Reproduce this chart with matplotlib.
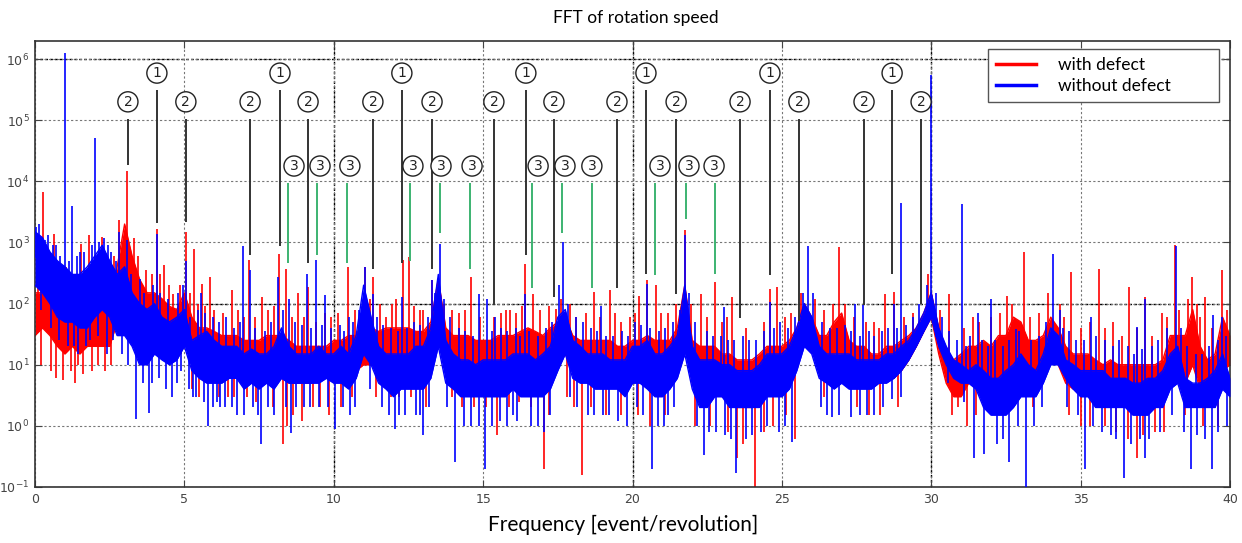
import numpy as np
import matplotlib
matplotlib.use("Agg")
import matplotlib.pyplot as plt
from matplotlib.lines import Line2D

# frequency grid of the band envelopes (event/revolution), step 0.25
freq_step = 0.25
freq = np.arange(0, 40 + freq_step / 2, freq_step)

# blue = without defect : upper / lower edge of the noise band
blue_hi = [1500, 1200, 700, 500, 400, 300, 300, 400, 600, 900, 500, 300, 400, 150, 100, 80,
           100, 60, 50, 60, 80, 25, 30, 35, 25, 20, 20, 20, 15, 18, 15, 15,
           20, 40, 20, 15, 15, 15, 20, 15, 15, 20, 15, 30, 200, 60, 20, 15,
           15, 15, 15, 20, 20, 40, 300, 25, 15, 12, 12, 10, 12, 12, 12, 12,
           15, 15, 15, 12, 15, 20, 60, 80, 25, 20, 15, 15, 15, 12, 12, 12,
           20, 20, 25, 15, 15, 20, 30, 200, 20, 12, 12, 12, 10, 10, 8, 8,
           8, 10, 15, 15, 15, 20, 40, 100, 60, 20, 15, 15, 15, 15, 12, 12,
           12, 12, 15, 15, 20, 25, 40, 70, 150, 40, 20, 12, 10, 8, 10, 8,
           6, 6, 8, 10, 15, 10, 8, 15, 40, 30, 12, 10, 8, 8, 8, 8,
           6, 6, 6, 5, 5, 6, 6, 8, 15, 20, 6, 5, 5, 6, 8, 15, 6]
blue_lo = [200, 150, 100, 60, 50, 50, 40, 40, 60, 80, 60, 30, 30, 20, 10, 10,
           15, 12, 10, 12, 20, 8, 6, 5, 5, 5, 6, 6, 4, 5, 4, 5,
           4, 6, 5, 5, 5, 5, 5, 6, 5, 5, 4, 6, 15, 10, 5, 4,
           3, 4, 4, 4, 4, 6, 20, 5, 4, 3, 3, 3, 3, 3, 3, 3,
           4, 3, 3, 3, 3, 4, 8, 15, 6, 5, 5, 4, 4, 4, 4, 3,
           5, 5, 4, 3, 3, 4, 6, 15, 4, 2, 2, 3, 3, 2, 2, 2,
           2, 2, 3, 3, 3, 4, 8, 20, 15, 6, 5, 4, 5, 4, 4, 4,
           4, 5, 5, 6, 8, 12, 20, 35, 60, 20, 10, 6, 5, 5, 4, 2,
           1.5, 1.5, 1.5, 2, 3, 3, 3, 5, 10, 10, 6, 4, 3, 3, 2, 2,
           2, 2, 2, 1.5, 1.5, 1.5, 2, 2, 4, 5, 2, 2, 2, 2, 2, 4, 3]

# red = with defect
red_hi = [150, 150, 200, 120, 150, 100, 100, 120, 150, 120, 100, 400, 2000, 600, 250, 150,
          150, 120, 90, 80, 150, 60, 40, 40, 35, 30, 30, 30, 25, 25, 25, 30,
          30, 30, 25, 20, 20, 20, 20, 20, 25, 25, 30, 30, 60, 40, 35, 40,
          40, 40, 40, 35, 35, 50, 250, 40, 30, 30, 30, 25, 25, 25, 30, 30,
          30, 35, 40, 35, 30, 40, 50, 60, 30, 25, 25, 25, 25, 25, 20, 20,
          25, 25, 30, 25, 25, 25, 40, 200, 25, 20, 20, 20, 15, 15, 12, 12,
          12, 15, 20, 20, 20, 25, 40, 100, 60, 30, 30, 50, 70, 25, 20, 20,
          15, 15, 20, 20, 25, 30, 40, 70, 150, 40, 15, 12, 15, 20, 20, 25,
          20, 30, 30, 60, 50, 25, 25, 30, 60, 40, 20, 15, 15, 15, 12, 10,
          12, 10, 10, 10, 10, 10, 10, 12, 30, 30, 30, 80, 20, 12, 15, 60, 30]
red_lo = [30, 40, 30, 20, 15, 20, 15, 20, 20, 20, 20, 50, 200, 150, 80, 60,
          60, 50, 50, 40, 40, 10, 10, 10, 10, 10, 10, 8, 8, 8, 8, 8,
          8, 8, 5, 5, 5, 5, 6, 6, 6, 6, 8, 8, 10, 10, 10, 10,
          10, 10, 10, 10, 8, 15, 40, 12, 10, 8, 8, 8, 8, 8, 8, 8,
          8, 10, 10, 8, 6, 8, 10, 15, 8, 8, 8, 8, 6, 6, 6, 5,
          6, 6, 6, 6, 6, 6, 10, 30, 5, 4, 4, 4, 3, 3, 2, 2,
          2, 3, 4, 4, 5, 6, 10, 25, 20, 10, 10, 15, 15, 6, 5, 5,
          5, 5, 6, 6, 8, 12, 20, 35, 60, 15, 5, 3, 3, 5, 5, 6,
          6, 6, 6, 10, 10, 6, 6, 8, 15, 10, 5, 4, 4, 4, 3, 3,
          3, 3, 2, 2, 2, 2, 2, 3, 6, 5, 5, 10, 4, 3, 3, 8, 10]

# tall narrow lines: (frequency, peak value)
blue_peaks = [(0.15, 2000), (0.45, 1300), (0.7, 900), (1.0, 1.26e6), (1.24, 4000), (1.5, 700),
              (2.0, 52000), (2.3, 1200), (2.55, 700), (2.82, 1500), (3.07, 1100), (4.07, 1400),
              (5.05, 500), (5.55, 150), (6.95, 860), (7.2, 350), (8.15, 270), (8.5, 120),
              (9.1, 310), (9.4, 510), (9.7, 136), (10.5, 60), (11.06, 400), (11.3, 145),
              (12.29, 130), (13.3, 240), (13.57, 950), (14.85, 145), (15.13, 120), (15.4, 60),
              (16.4, 145), (17.68, 1000), (18.95, 90), (20.48, 210), (21.76, 1300), (23.05, 88),
              (24.6, 106), (25.87, 890), (27.45, 100), (27.73, 95), (28.74, 100), (28.98, 4500),
              (30.0, 5.5e5), (31.02, 4300), (31.58, 69), (32.0, 120), (32.83, 39), (34.09, 650),
              (35.36, 60), (36.9, 42), (37.17, 120), (38.19, 890), (39.44, 65), (39.72, 60)]
red_peaks = [(0.28, 6600), (0.62, 1400), (1.55, 950), (1.8, 1300), (2.25, 1250), (2.8, 2300),
             (2.95, 1000), (3.07, 15000), (4.07, 1650), (4.33, 420), (4.62, 145), (5.05, 1470),
             (5.33, 790), (5.6, 210), (5.87, 270), (6.6, 165), (7.16, 510), (7.6, 130),
             (8.16, 650), (8.41, 370), (8.8, 150), (9.15, 190), (9.7, 70), (10.47, 400),
             (11.04, 400), (11.32, 270), (11.76, 60), (12.32, 510), (12.51, 575), (13.0, 78),
             (13.3, 240), (14.58, 270), (15.9, 78), (16.4, 450), (16.68, 145), (17.45, 83),
             (18.7, 155), (19.25, 165), (20.23, 135), (20.5, 240), (20.77, 200), (21.76, 1570),
             (22.3, 145), (22.77, 225), (23.33, 130), (24.6, 175), (24.85, 190), (26.9, 840),
             (28.46, 145), (28.74, 155), (30.58, 145), (32.55, 135), (33.1, 690), (34.67, 330),
             (35.63, 370), (36.63, 190), (37.17, 130), (37.72, 69), (38.17, 910), (38.74, 270),
             (39.17, 130), (39.72, 350)]

# deep narrow drops: (frequency, lowest value)
blue_dips = [(1.1, 20), (2.4, 15), (3.38, 1.3), (3.8, 1.6), (4.6, 3), (5.3, 3), (5.8, 1.0),
             (6.2, 2), (6.77, 1.5), (7.57, 0.5), (8.56, 0.77), (9.0, 2), (10.05, 0.9),
             (10.7, 2), (11.6, 2), (12.06, 0.9), (13.0, 0.7), (14.07, 0.26), (15.05, 0.2),
             (16.0, 1.5), (17.04, 0.8), (18.5, 1.5), (19.0, 1.5), (20.65, 0.2), (21.2, 1.5),
             (22.38, 0.33), (23.47, 0.17), (24.3, 0.8), (25.33, 0.55), (26.67, 1.4), (27.3, 1.4),
             (28.67, 2.7), (31.42, 0.3), (31.78, 0.35), (32.6, 0.26), (33.17, 0.1), (35.15, 0.2),
             (36.45, 0.14), (37.17, 0.3), (38.69, 0.2), (39.4, 0.2)]
red_dips = [(0.94, 5.6), (1.6, 7), (8.29, 0.5), (8.93, 1.2), (15.47, 0.7), (17.03, 0.2),
            (18.3, 0.16), (23.5, 0.3), (24.1, 0.1), (25.45, 0.6), (30.9, 2), (35.0, 1),
            (36.9, 0.3), (37.5, 0.8)]

# small noise excursions above / below the band: (frequency, value)
blue_noise = [(0.05, 1800), (0.35, 1100), (0.6, 900), (0.85, 600), (1.15, 500), (1.4, 600), (1.65, 700),
              (1.9, 900), (2.15, 1000), (2.45, 900), (2.7, 500), (3.2, 300), (3.5, 250), (3.65, 150),
              (3.95, 200), (4.2, 150), (4.45, 120), (4.8, 150), (4.95, 200), (5.2, 60), (5.45, 80),
              (5.7, 70), (5.95, 60), (6.15, 50), (6.4, 60), (6.65, 40), (6.85, 50), (7.35, 40),
              (7.7, 35), (7.9, 50), (8.3, 80), (8.7, 50), (8.95, 45), (9.25, 40), (9.6, 45),
              (9.9, 40), (10.2, 45), (10.35, 35), (10.65, 50), (10.85, 80), (11.45, 60), (11.65, 45),
              (11.9, 40), (12.15, 35), (12.45, 40), (12.7, 50), (12.9, 45), (13.15, 60), (13.4, 150),
              (13.7, 120), (13.9, 60), (14.2, 40), (14.4, 35), (14.65, 30), (15.3, 35), (15.6, 40),
              (15.8, 35), (16.1, 40), (16.25, 30), (16.55, 35), (16.85, 30), (17.1, 40), (17.3, 50),
              (17.55, 200), (17.85, 100), (18.1, 60), (18.35, 50), (18.6, 40), (18.8, 35), (19.1, 30),
              (19.35, 30), (19.65, 35), (19.85, 30), (20.1, 50), (20.3, 45), (20.6, 40), (20.9, 35),
              (21.1, 40), (21.35, 50), (21.6, 80), (21.9, 150), (22.1, 50), (22.5, 35), (22.7, 30),
              (22.95, 30), (23.2, 25), (23.4, 25), (23.7, 30), (23.9, 25), (24.15, 25), (24.4, 35),
              (24.75, 40), (24.95, 50), (25.2, 40), (25.45, 60), (25.7, 150), (26.05, 150), (26.35, 50),
              (26.6, 40), (26.85, 40), (27.1, 45), (27.3, 35), (27.6, 30), (27.9, 35), (28.1, 30),
              (28.35, 35), (28.55, 40), (28.85, 40), (29.15, 45), (29.4, 60), (29.6, 100), (29.85, 200),
              (30.15, 150), (30.35, 60), (30.6, 35), (30.85, 25), (31.15, 20), (31.3, 30), (31.7, 25),
              (31.9, 20), (32.15, 25), (32.4, 20), (32.6, 25), (32.95, 35), (33.35, 25), (33.6, 30),
              (33.85, 50), (34.3, 80), (34.4, 40), (34.6, 35), (34.85, 25), (35.1, 25), (35.5, 30),
              (35.8, 25), (36.1, 20), (36.3, 25), (36.6, 20), (36.8, 15), (37.05, 18), (37.4, 20),
              (37.6, 25), (37.9, 40), (38.35, 40), (38.55, 20), (38.85, 15), (39.05, 15), (39.3, 20),
              (39.6, 25), (39.85, 30),
              (0.2, 80), (0.55, 40), (0.8, 25), (1.3, 20), (1.45, 15), (1.7, 20), (1.85, 25),
              (2.1, 30), (2.6, 25), (2.9, 15), (3.1, 10), (3.6, 5), (3.9, 5), (4.15, 6), (4.4, 4),
              (4.75, 5), (4.9, 8), (5.15, 4), (5.4, 3), (5.65, 2.5), (5.95, 2), (6.1, 2.5), (6.35, 2),
              (6.6, 2), (7.0, 1.5), (7.3, 2), (7.45, 1.5), (7.8, 2), (8.0, 1.5), (8.4, 2), (8.75, 2),
              (9.2, 2), (9.5, 2), (9.8, 2), (10.3, 2), (10.55, 1.5), (11.2, 4), (11.85, 1.5), (12.2, 1.5),
              (12.4, 1.5), (12.75, 1.5), (12.9, 1.5), (13.2, 2), (13.8, 2), (14.35, 1), (14.6, 1),
              (14.85, 1), (15.3, 1), (15.55, 1.2), (15.8, 1), (16.15, 1.2), (16.6, 1), (16.85, 1),
              (17.25, 1.5), (17.9, 3), (18.15, 2), (18.7, 1.5), (19.2, 1.5), (19.5, 1.2), (19.8, 1),
              (20.15, 2), (20.35, 1.5), (20.85, 1), (21.05, 1), (21.4, 2), (22.15, 1), (22.55, 0.8),
              (22.8, 0.8), (23.1, 0.7), (23.3, 0.6), (23.8, 0.6), (24.0, 0.7), (24.5, 1), (24.9, 0.8),
              (25.1, 1), (26.3, 2), (26.5, 1.5), (26.9, 1.5), (27.6, 1.5), (27.85, 1.5), (28.1, 1.5),
              (28.4, 2), (29.0, 3), (30.55, 5), (31.1, 2.5), (32.2, 0.5), (32.4, 0.6), (32.9, 1),
              (33.45, 1), (33.7, 2), (34.55, 2), (34.9, 1.5), (35.4, 1), (35.7, 0.8), (36.0, 0.7),
              (36.2, 0.6), (36.7, 0.5), (37.0, 0.6), (37.3, 0.6), (37.65, 0.8), (38.05, 1.5), (38.45, 0.8),
              (38.9, 0.7), (39.15, 0.6), (39.6, 0.8), (39.9, 1)]
red_noise = [(0.1, 400), (0.4, 500), (0.75, 300), (1.05, 400), (1.3, 300), (2.0, 600), (2.4, 400),
             (2.65, 600), (3.3, 1200), (3.45, 600), (3.7, 350), (3.9, 300), (4.2, 300), (4.5, 200),
             (4.85, 200), (5.2, 150), (5.45, 100), (5.7, 90), (6.0, 80), (6.3, 70), (6.8, 80), (7.0, 60),
             (7.35, 60), (7.8, 80), (8.0, 90), (8.6, 60), (9.0, 60), (9.4, 50), (9.9, 60), (10.15, 70),
             (10.7, 80), (11.2, 120), (11.55, 100), (11.95, 100), (12.1, 120), (12.7, 90), (12.9, 80),
             (13.45, 150), (13.7, 100), (13.95, 80), (14.2, 70), (14.4, 80), (14.9, 60), (15.35, 60),
             (15.6, 70), (15.75, 80), (16.1, 70), (16.3, 90), (16.9, 80), (17.2, 90), (17.6, 120),
             (17.9, 100), (18.1, 60), (18.45, 70), (18.9, 60), (19.4, 70), (19.6, 50), (19.9, 60),
             (20.1, 70), (20.95, 70), (21.2, 70), (21.45, 100), (21.95, 100), (22.5, 60), (23.0, 50),
             (23.15, 60), (23.8, 40), (24.4, 50), (25.1, 60), (25.3, 70), (25.65, 150), (26.1, 120),
             (26.4, 80), (26.7, 100), (27.1, 100), (27.4, 60), (27.8, 50), (28.1, 50), (28.25, 40),
             (29.1, 60), (29.4, 70), (29.9, 300), (30.3, 80), (31.1, 40), (31.4, 60), (31.6, 50),
             (32.0, 60), (32.3, 70), (32.7, 100), (33.3, 60), (33.6, 70), (33.9, 150), (34.3, 100),
             (34.45, 60), (35.0, 40), (35.3, 50), (35.8, 40), (36.1, 50), (36.4, 30), (36.9, 40),
             (37.4, 30), (37.9, 60), (38.3, 80), (38.6, 120), (38.9, 100), (39.0, 60), (39.4, 40),
             (39.9, 80),
             (0.2, 10), (0.55, 8), (0.7, 6), (1.2, 8), (1.35, 5), (1.45, 10), (1.9, 8), (2.1, 10),
             (2.35, 8), (2.55, 10), (3.6, 20), (4.1, 20), (4.45, 25), (4.9, 15), (5.25, 4), (5.5, 3),
             (6.15, 3), (6.45, 3), (6.65, 3), (7.1, 3), (7.4, 2.5), (7.95, 2), (8.45, 1), (8.65, 1.5),
             (9.3, 2), (9.55, 2), (9.85, 1.5), (10.25, 2), (10.6, 3), (11.4, 3), (11.9, 3), (12.2, 3),
             (12.6, 3), (13.1, 2), (13.95, 3), (14.3, 2), (14.7, 2), (15.1, 2), (15.85, 2), (16.2, 2.5),
             (16.6, 2), (17.2, 1.5), (17.8, 3), (18.05, 2), (18.6, 2), (19.1, 1.5), (19.6, 1.5),
             (20.2, 1.5), (20.6, 1), (21.1, 1.5), (22.1, 1), (22.6, 1), (23.2, 0.8), (23.7, 0.5),
             (24.4, 0.8), (24.7, 1), (25.15, 1.5), (26.4, 3), (27.5, 2), (27.9, 1.5), (28.3, 1.5),
             (28.9, 2), (30.7, 1.5), (31.2, 1), (31.5, 1.5), (32.1, 2), (32.8, 3), (33.4, 2),
             (34.6, 1.5), (35.3, 1), (35.8, 1), (36.2, 0.8), (36.6, 0.6), (37.1, 0.7), (37.8, 0.8),
             (38.5, 1.5), (39.1, 1), (39.6, 1)]

# circled harmonic markers: frequency of the line and where the line stops (log10)
order1_f = [4.08, 8.20, 12.28, 16.43, 20.45, 24.60, 28.69]
order1_end = [3.31, 2.95, 2.67, 2.79, 2.49, 2.46, 2.49]
order2_f = [3.11, 5.05, 7.20, 9.14, 11.31, 13.29, 15.36, 17.37, 19.48, 21.46, 23.60, 25.57, 27.75, 29.66]
order2_end = [4.26, 3.33, 2.79, 2.66, 2.57, 2.56, 1.97, 2.10, 2.25, 2.16, 1.77, 1.72, 1.97, 2.0]
order3_f = [8.47, 9.44, 10.44, 12.55, 13.56, 14.56, 16.64, 17.64, 18.64, 20.75, 21.79, 22.76]
order3_label_f = [8.67, 9.54, 10.54, 12.65, 13.59, 14.63, 16.84, 17.74, 18.64, 20.92, 21.89, 22.73]
order3_end = [2.67, 2.79, 2.67, 2.70, 3.15, 2.57, 2.26, 3.15, 2.25, 2.46, 3.39, 2.49]

RED = '#ff0000'
BLUE = '#0000ff'

fig = plt.figure(figsize=(12.42, 5.43), dpi=100)
ax = fig.add_axes([35 / 1242, 1 - 487 / 543, 1195 / 1242, 446 / 543])
ax.set_yscale('log')


def draw_series(hi, lo, lines, color, z):
    hi = np.array(hi, dtype=float)
    lo = np.array(lo, dtype=float)
    mid = np.sqrt(hi * lo)
    ax.fill_between(freq, lo, hi, color=color, lw=0, zorder=z)
    ax.plot(freq, hi, color=color, lw=1.0, zorder=z)
    ax.plot(freq, lo, color=color, lw=1.0, zorder=z)
    # each narrow line starts inside the band and runs out to its value
    fs = np.array([p[0] for p in lines])
    vs = np.array([p[1] for p in lines])
    idx = np.rint(fs / freq_step).astype(int)
    ax.vlines(fs, mid[idx], vs, color=color, lw=1.2, zorder=z)


draw_series(red_hi, red_lo, red_peaks + red_dips + red_noise, RED, 2)
draw_series(blue_hi, blue_lo, blue_peaks + blue_dips + blue_noise, BLUE, 3)

ax.set_xlim(0, 40)
ax.set_ylim(0.1, 10 ** 6.295)
ax.set_xticks(np.arange(0, 41, 5))
ax.minorticks_off()

# grid: light dotted, darker on 10/20/30 and 1e2/1e6
ax.grid(True, which='major', color='#777777', linestyle=(0, (2, 2)), lw=0.8, zorder=1)
for xv in [10, 20, 30]:
    ax.axvline(xv, color='black', linestyle=(0, (2, 1.5)), lw=1.0, zorder=1)
for yv in [1e2, 1e6]:
    ax.axhline(yv, color='black', linestyle=(0, (2, 1.5)), lw=1.0, zorder=1)

ax.tick_params(direction='in', top=True, right=True, length=5, colors='#444444',
               labelsize=9, pad=4)
for sp in ax.spines.values():
    sp.set_color('#333333')
    sp.set_linewidth(1.2)

# circled labels and marker lines
lab_kw = dict(ha='center', va='center', fontsize=10, color='#222222', zorder=6,
              bbox=dict(boxstyle='circle,pad=0.22', fc='white', ec='#222222', lw=1.0))
ax.vlines(order1_f, 10 ** np.array(order1_end), 10 ** 5.49, color='#333333', lw=1.4, zorder=5)
ax.vlines(order2_f, 10 ** np.array(order2_end), 10 ** 5.02, color='#333333', lw=1.4, zorder=5)
ax.vlines(order3_f, 10 ** np.array(order3_end), 10 ** 3.97, color='#3cb371', lw=1.4, zorder=5)
for f in order1_f:
    ax.text(f, 10 ** 5.77, '1', **lab_kw)
for f in order2_f:
    ax.text(f, 10 ** 5.30, '2', **lab_kw)
for f in order3_label_f:
    ax.text(f, 10 ** 4.25, '3', **lab_kw)

handles = [Line2D([], [], color=RED, lw=2.5), Line2D([], [], color=BLUE, lw=2.5)]
leg = ax.legend(handles, ['with defect', 'without defect'], loc='upper left',
                bbox_to_anchor=((988 - 35) / 1195, 0, (1219 - 988) / 1195, 0.982),
                mode='expand', borderaxespad=0, fancybox=False, framealpha=1,
                edgecolor='#555555', handlelength=2.3, handletextpad=1.3,
                prop={'family': 'Lato', 'size': 12.5}, borderpad=0.45, labelspacing=0.3)
leg.get_frame().set_linewidth(1.0)
leg.set_zorder(10)

fig.text(636 / 1242, 1 - 18 / 543, 'FFT of rotation speed', ha='center', va='center',
         family='Lato', fontsize=12.5)
fig.text(623 / 1242, 1 - 525 / 543, 'Frequency [event/revolution]', ha='center', va='center',
         family='Lato', fontsize=15)

fig.savefig('out.png', dpi=100)
